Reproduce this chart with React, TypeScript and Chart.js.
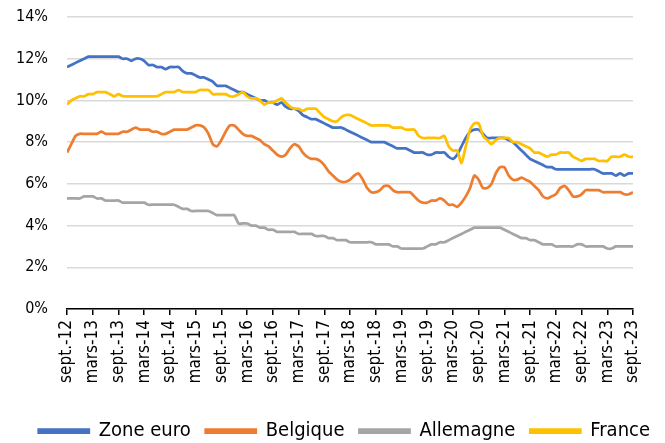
import React, { useEffect, useRef } from "react";
import { Chart, registerables } from "chart.js";
Chart.register(...registerables);

const tickLabels = [
  "sept.-12", "mars-13", "sept.-13", "mars-14", "sept.-14", "mars-15", "sept.-15", "mars-16",
  "sept.-16", "mars-17", "sept.-17", "mars-18", "sept.-18", "mars-19", "sept.-19", "mars-20",
  "sept.-20", "mars-21", "sept.-21", "mars-22", "sept.-22", "mars-23", "sept.-23",
];

const zoneEuro = [
  11.6, 11.7, 11.8, 11.9, 12.0, 12.1, 12.1, 12.1, 12.1, 12.1,
  12.1, 12.1, 12.1, 12.0, 12.0, 11.9, 12.0, 12.0, 11.9, 11.7,
  11.7, 11.6, 11.6, 11.5, 11.6, 11.6, 11.6, 11.4, 11.3, 11.3,
  11.2, 11.1, 11.1, 11.0, 10.9, 10.7, 10.7, 10.7, 10.6, 10.5,
  10.4, 10.4, 10.3, 10.2, 10.1, 10.0, 10.0, 9.9, 9.9, 9.8,
  9.9, 9.7, 9.6, 9.6, 9.5, 9.3, 9.2, 9.1, 9.1, 9.0,
  8.9, 8.8, 8.7, 8.7, 8.7, 8.6, 8.5, 8.4, 8.3, 8.2,
  8.1, 8.0, 8.0, 8.0, 8.0, 7.9, 7.8, 7.7, 7.7, 7.7,
  7.6, 7.5, 7.5, 7.5, 7.4, 7.4, 7.5, 7.5, 7.5, 7.3,
  7.2, 7.4, 7.8, 8.2, 8.5, 8.6, 8.6, 8.4, 8.2, 8.2,
  8.2, 8.2, 8.2, 8.1, 8.0, 7.8, 7.6, 7.4, 7.2, 7.1,
  7.0, 6.9, 6.8, 6.8, 6.7, 6.7, 6.7, 6.7, 6.7, 6.7,
  6.7, 6.7, 6.7, 6.7, 6.6, 6.5, 6.5, 6.5, 6.4, 6.5,
  6.4, 6.5, 6.5,
];

const belgique = [
  7.5, 7.9, 8.3, 8.4, 8.4, 8.4, 8.4, 8.4, 8.5, 8.4,
  8.4, 8.4, 8.4, 8.5, 8.5, 8.6, 8.7, 8.6, 8.6, 8.6,
  8.5, 8.5, 8.4, 8.4, 8.5, 8.6, 8.6, 8.6, 8.6, 8.7,
  8.8, 8.8, 8.7, 8.4, 7.9, 7.8, 8.1, 8.5, 8.8, 8.8,
  8.6, 8.4, 8.3, 8.3, 8.2, 8.1, 7.9, 7.8, 7.6, 7.4,
  7.3, 7.4, 7.7, 7.9, 7.8, 7.5, 7.3, 7.2, 7.2, 7.1,
  6.9, 6.6, 6.4, 6.2, 6.1, 6.1, 6.2, 6.4, 6.5, 6.2,
  5.8, 5.6, 5.6, 5.7, 5.9, 5.9, 5.7, 5.6, 5.6, 5.6,
  5.6, 5.4, 5.2, 5.1, 5.1, 5.2, 5.2, 5.3, 5.2, 5.0,
  5.0, 4.9, 5.1, 5.4, 5.8, 6.4, 6.2, 5.8, 5.8, 6.0,
  6.5, 6.8, 6.8, 6.4, 6.2, 6.2, 6.3, 6.2, 6.1, 5.9,
  5.7, 5.4, 5.3, 5.4, 5.5, 5.8, 5.9, 5.7, 5.4, 5.4,
  5.5, 5.7, 5.7, 5.7, 5.7, 5.6, 5.6, 5.6, 5.6, 5.6,
  5.5, 5.5, 5.6,
];

const allemagne = [
  5.3, 5.3, 5.3, 5.3, 5.4, 5.4, 5.4, 5.3, 5.3, 5.2,
  5.2, 5.2, 5.2, 5.1, 5.1, 5.1, 5.1, 5.1, 5.1, 5.0,
  5.0, 5.0, 5.0, 5.0, 5.0, 5.0, 4.9, 4.8, 4.8, 4.7,
  4.7, 4.7, 4.7, 4.7, 4.6, 4.5, 4.5, 4.5, 4.5, 4.5,
  4.1, 4.1, 4.1, 4.0, 4.0, 3.9, 3.9, 3.8, 3.8, 3.7,
  3.7, 3.7, 3.7, 3.7, 3.6, 3.6, 3.6, 3.6, 3.5, 3.5,
  3.5, 3.4, 3.4, 3.3, 3.3, 3.3, 3.2, 3.2, 3.2, 3.2,
  3.2, 3.2, 3.1, 3.1, 3.1, 3.1, 3.0, 3.0, 2.9, 2.9,
  2.9, 2.9, 2.9, 2.9, 3.0, 3.1, 3.1, 3.2, 3.2, 3.3,
  3.4, 3.5, 3.6, 3.7, 3.8, 3.9, 3.9, 3.9, 3.9, 3.9,
  3.9, 3.9, 3.8, 3.7, 3.6, 3.5, 3.4, 3.4, 3.3, 3.3,
  3.2, 3.1, 3.1, 3.1, 3.0, 3.0, 3.0, 3.0, 3.0, 3.1,
  3.1, 3.0, 3.0, 3.0, 3.0, 3.0, 2.9, 2.9, 3.0, 3.0,
  3.0, 3.0, 3.0,
];

const france = [
  9.8, 10.0, 10.1, 10.2, 10.2, 10.3, 10.3, 10.4, 10.4, 10.4,
  10.3, 10.2, 10.3, 10.2, 10.2, 10.2, 10.2, 10.2, 10.2, 10.2,
  10.2, 10.2, 10.3, 10.4, 10.4, 10.4, 10.5, 10.4, 10.4, 10.4,
  10.4, 10.5, 10.5, 10.5, 10.3, 10.3, 10.3, 10.3, 10.2, 10.2,
  10.3, 10.4, 10.2, 10.1, 10.1, 10.0, 9.8, 9.9, 9.9, 10.0,
  10.1, 9.9, 9.7, 9.6, 9.6, 9.5, 9.6, 9.6, 9.6, 9.4,
  9.2, 9.1, 9.0, 9.0, 9.2, 9.3, 9.3, 9.2, 9.1, 9.0,
  8.9, 8.8, 8.8, 8.8, 8.8, 8.8, 8.7, 8.7, 8.7, 8.6,
  8.6, 8.6, 8.3, 8.2, 8.2, 8.2, 8.2, 8.2, 8.3, 7.8,
  7.6, 7.6, 7.0, 7.8, 8.6, 8.9, 8.9, 8.3, 8.1, 7.9,
  8.1, 8.2, 8.2, 8.2, 8.0, 8.0, 7.9, 7.8, 7.7, 7.5,
  7.5, 7.4, 7.3, 7.4, 7.4, 7.5, 7.5, 7.5, 7.3, 7.2,
  7.1, 7.2, 7.2, 7.2, 7.1, 7.1, 7.1, 7.3, 7.3, 7.3,
  7.4, 7.3, 7.3,
];

const seriesNames = ["Zone euro", "Belgique", "Allemagne", "France"];
const seriesColors = ["#4472C4", "#ED7D31", "#A5A5A5", "#FFC000"];
const seriesValues = [zoneEuro, belgique, allemagne, france];

const FONT = "'DejaVu Sans Condensed', 'Open Sans', sans-serif";

export default function App() {
  const ref = useRef<HTMLCanvasElement | null>(null);

  useEffect(() => {
    const canvas = ref.current;
    if (!canvas) return;
    const chart = new Chart(canvas, {
      type: "line",
      data: {
        datasets: seriesValues.map((vals, k) => ({
          label: seriesNames[k],
          data: vals.map((y, i) => ({ x: i, y })),
          borderColor: seriesColors[k],
          backgroundColor: seriesColors[k],
          borderWidth: 2.75,
          pointRadius: 0,
          tension: 0.2,
          fill: false,
          order: 3 - k,
        })),
      },
      options: {
        animation: false,
        responsive: false,
        devicePixelRatio: 1,
        layout: { padding: { top: 17, right: 0, left: 0, bottom: 0 } },
        plugins: {
          tooltip: { enabled: false },
          legend: {
            position: "bottom",
            align: "end",
            labels: {
              boxWidth: 50,
              boxHeight: 3,
              padding: 15,
              color: "#000",
              font: { family: FONT, size: 20 },
              sort: (a: any, b: any) => a.datasetIndex - b.datasetIndex,
            },
          },
        },
        scales: {
          x: {
            type: "linear",
            min: 0,
            max: 132,
            afterFit: (s: any) => { s.height = 97; s.paddingLeft = 0; s.paddingRight = 32; },
            ticks: {
              stepSize: 6,
              autoSkip: false,
              minRotation: 90,
              maxRotation: 90,
              padding: 5,
              color: "#000",
              font: { family: FONT, size: 17 },
              callback: (v: any) => tickLabels[Math.round(Number(v) / 6)] ?? "",
            },
            grid: {
              drawOnChartArea: false,
              drawTicks: true,
              tickLength: 6,
              color: "#000",
              lineWidth: 1.5,
            },
            border: { display: true, color: "#000", width: 1.5 },
          },
          y: {
            min: 0,
            max: 14,
            afterFit: (s: any) => { s.width = 67; s.paddingTop = 0; s.paddingBottom = 0; },
            ticks: {
              stepSize: 2,
              padding: 19,
              color: "#000",
              font: { family: FONT, size: 16 },
              callback: (v: any) => `${v}%`,
            },
            grid: { color: "#d9d9d9", lineWidth: 1.5, drawTicks: false },
            border: { display: false },
          },
        },
      },
    });
    return () => chart.destroy();
  }, []);

  return (
    <div style={{ position: "absolute", left: 0, top: 0, width: 665, height: 443, overflow: "hidden", background: "#fff" }}>
      <canvas ref={ref} width={665} height={451} style={{ display: "block", width: 665, height: 451 }} />
    </div>
  );
}
